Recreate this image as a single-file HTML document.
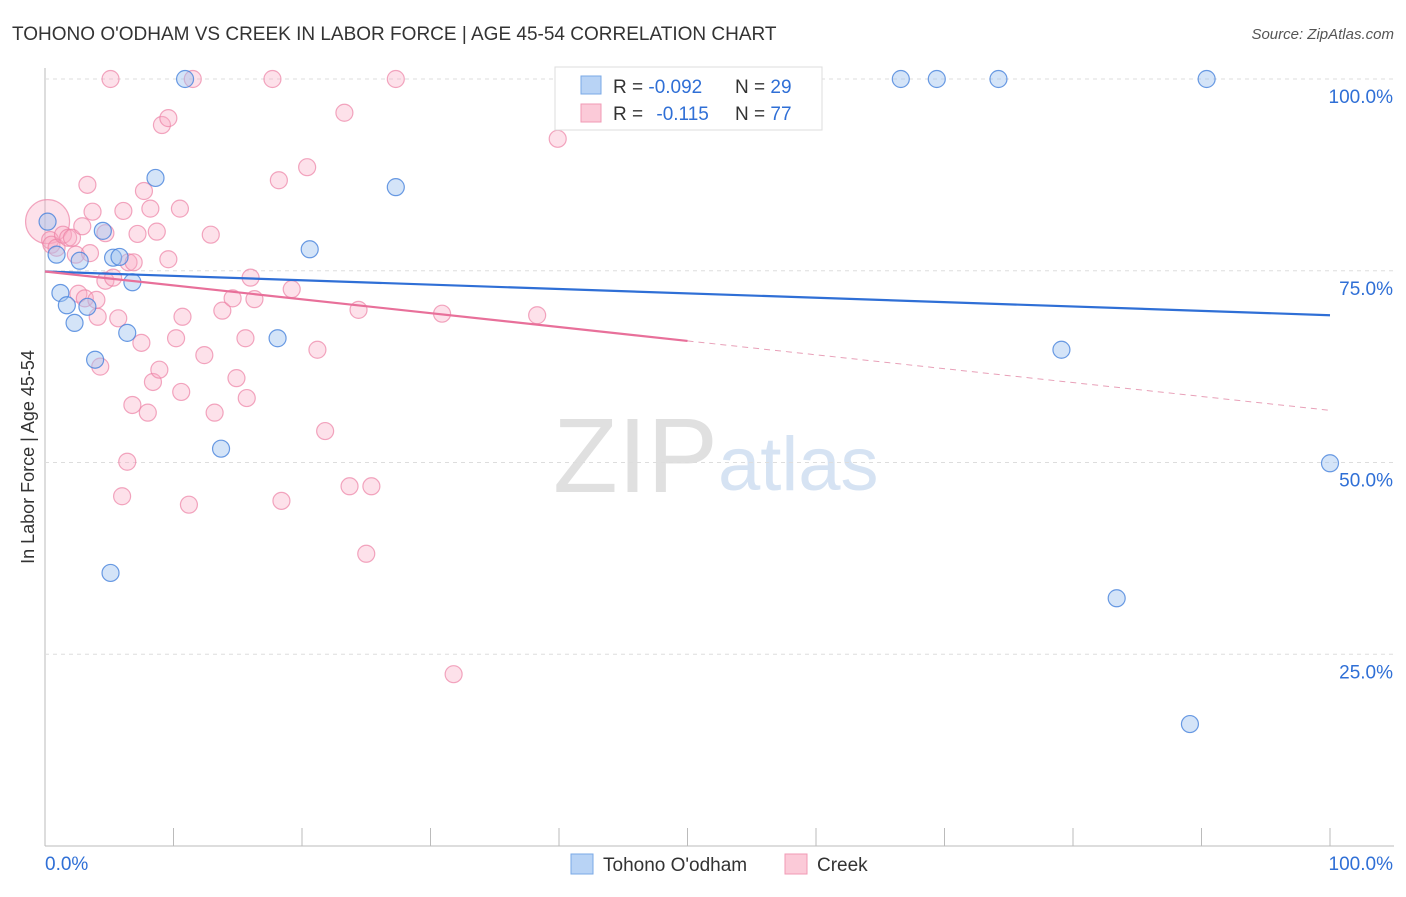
<!DOCTYPE html>
<html><head><meta charset="utf-8"><style>
body{margin:0;background:#fff;font-family:"Liberation Sans",sans-serif;}
svg text{font-family:"Liberation Sans",sans-serif;}
</style></head><body>
<svg id="c" width="1406" height="892" xmlns="http://www.w3.org/2000/svg">
<text x="12" y="40" font-size="19" fill="#333">TOHONO O'ODHAM VS CREEK IN LABOR FORCE | AGE 45-54 CORRELATION CHART</text>
<text x="1394" y="39" font-size="15" fill="#555" text-anchor="end" font-style="italic">Source: ZipAtlas.com</text>
<text transform="translate(34,457) rotate(-90)" font-size="18" fill="#333" text-anchor="middle">In Labor Force | Age 45-54</text>
<text x="553" y="492" font-size="106" fill="#e0e0e0" font-family="Liberation Serif">ZIP</text>
<text x="718" y="490" font-size="76" fill="#d6e3f3">atlas</text>
<g id="grid"></g><g id="marks"></g><g id="lines"></g>
<g>
<rect x="555" y="67" width="267" height="63" fill="#fff" stroke="#ddd"/>
<rect x="581" y="76" width="20" height="18" fill="#b8d3f5" stroke="#7aa8e6"/>
<rect x="581" y="104" width="20" height="18" fill="#fbcad8" stroke="#f09ab5"/>
<text x="613" y="93" font-size="19" fill="#333">R = <tspan fill="#2f6fd6">-0.092</tspan></text>
<text x="735" y="93" font-size="19" fill="#333">N = <tspan fill="#2f6fd6">29</tspan></text>
<text x="613" y="120" font-size="19" fill="#333">R =  <tspan fill="#2f6fd6" dx="8">-0.115</tspan></text>
<text x="735" y="120" font-size="19" fill="#333">N = <tspan fill="#2f6fd6">77</tspan></text>
</g>
<g>
<rect x="571" y="854" width="22" height="20" fill="#b8d3f5" stroke="#7aa8e6"/>
<text x="603" y="871" font-size="19" fill="#333">Tohono O'odham</text>
<rect x="785" y="854" width="22" height="20" fill="#fbcad8" stroke="#f09ab5"/>
<text x="817" y="871" font-size="19" fill="#333">Creek</text>
</g>
</svg>
<script>
const blueX=[0.2,0.9,1.2,1.7,2.3,2.7,3.3,3.9,4.5,5.1,5.3,5.8,6.4,6.8,8.6,10.9,13.7,18.1,20.6,27.3,47.6,66.6,69.4,74.2,79.1,83.4,89.1,90.4,100];
const blueY=[81.4,77.1,72.1,70.5,68.2,76.3,70.3,63.4,80.2,35.6,76.7,76.8,66.9,73.5,87.1,100,51.8,66.2,77.8,85.9,100,100,100,100,64.7,32.3,15.9,100,49.9];
const pinkX=[0.2,0.4,0.5,0.9,1.4,1.8,2.1,2.4,2.6,2.9,3.1,3.3,3.5,3.7,4.0,4.1,4.3,4.7,4.7,5.1,5.3,5.7,6.0,6.1,6.4,6.5,6.8,6.9,7.2,7.5,7.7,8.0,8.2,8.4,8.7,8.9,9.1,9.6,9.6,10.2,10.5,10.6,10.7,11.2,11.5,12.4,12.9,13.2,13.8,14.6,14.9,15.6,15.7,16.0,16.3,17.7,18.2,18.4,19.2,20.4,21.2,21.8,23.3,23.7,24.4,25.0,25.4,27.3,30.9,31.8,38.3,39.9];
const pinkY=[81.4,79.0,78.4,78.0,79.7,79.3,79.3,77.1,72.0,80.8,71.4,86.2,77.3,82.7,71.2,69.0,62.5,79.9,73.7,100,74.1,68.8,45.6,82.8,50.1,76.1,57.5,76.1,79.8,65.6,85.4,56.5,83.1,60.5,80.1,62.1,94.0,94.9,76.5,66.2,83.1,59.2,69.0,44.5,100,64.0,79.7,56.5,69.8,71.4,61.0,66.2,58.4,74.1,71.3,100,86.8,45.0,72.6,88.5,64.7,54.1,95.6,46.9,69.9,38.1,46.9,100,69.4,22.4,69.2,92.2];
const blueTrend=[74.9,69.2];
const pinkTrend=[74.9,56.8];
const yTicks=[25,50,75,100];
const yTickLabels=["25.0%","50.0%","75.0%","100.0%"];
const xTickCount=10;

const NS="http://www.w3.org/2000/svg";
const X0=45,X1=1330,Y0=846,PPU=7.67;
function sx(v){return X0+(X1-X0)*v/100;}
function sy(v){return Y0-v*PPU;}
function mk(tag,attrs,parent){const e=document.createElementNS(NS,tag);for(const k in attrs)e.setAttribute(k,attrs[k]);document.getElementById(parent).appendChild(e);return e;}

let ax=mk('line',{x1:X0,y1:Y0,x2:1394,y2:Y0,stroke:'#bbb'},'grid');


let ay=mk('line',{x1:X0,y1:68,x2:X0,y2:Y0,stroke:'#bbb'},'grid');


yTicks.forEach((t,i)=>{
  const g=mk('line',{x1:X0,y1:sy(t),x2:1394,y2:sy(t),stroke:'#ddd','stroke-dasharray':'4,4'},'grid');
  
  
  const l=mk('text',{x:1393,y:sy(t)+24,'font-size':19,fill:'#2f6fd6','text-anchor':'end'},'grid');
  l.textContent=yTickLabels[i];
  
  
});
for(let i=0;i<=xTickCount;i++){
  const x=sx(i*100/xTickCount);
  const t=mk('line',{x1:x,y1:Y0-18,x2:x,y2:Y0,stroke:'#bbb'},'grid');
  
  
}
let xl=mk('text',{x:45,y:870,'font-size':19,fill:'#2f6fd6'},'grid');xl.textContent='0.0%';


let xr=mk('text',{x:1393,y:870,'font-size':19,fill:'#2f6fd6','text-anchor':'end'},'grid');xr.textContent='100.0%';



pinkX.forEach((v,i)=>{
  const c=mk('circle',{cx:sx(v),cy:sy(pinkY[i]),r:i==0?22:8.5,fill:'rgba(248,170,195,0.35)',stroke:'rgba(236,130,165,0.7)','stroke-width':1.2},'marks');
  
  
});
blueX.forEach((v,i)=>{
  const c=mk('circle',{cx:sx(v),cy:sy(blueY[i]),r:8.5,fill:'rgba(160,195,240,0.45)',stroke:'rgba(70,130,220,0.8)','stroke-width':1.2},'marks');
  
  
});
let bl=mk('line',{x1:sx(0),y1:sy(blueTrend[0]),x2:sx(100),y2:sy(blueTrend[1]),stroke:'#2f6fd6','stroke-width':2.2},'lines');


const pm=pinkTrend[0]+(pinkTrend[1]-pinkTrend[0])*0.5;
let pl=mk('line',{x1:sx(0),y1:sy(pinkTrend[0]),x2:sx(50),y2:sy(pm),stroke:'#e8709a','stroke-width':2.2},'lines');


let pd=mk('line',{x1:sx(50),y1:sy(pm),x2:sx(100),y2:sy(pinkTrend[1]),stroke:'#e8a0b8','stroke-width':1,'stroke-dasharray':'6,5'},'lines');


</script>
</body></html>
